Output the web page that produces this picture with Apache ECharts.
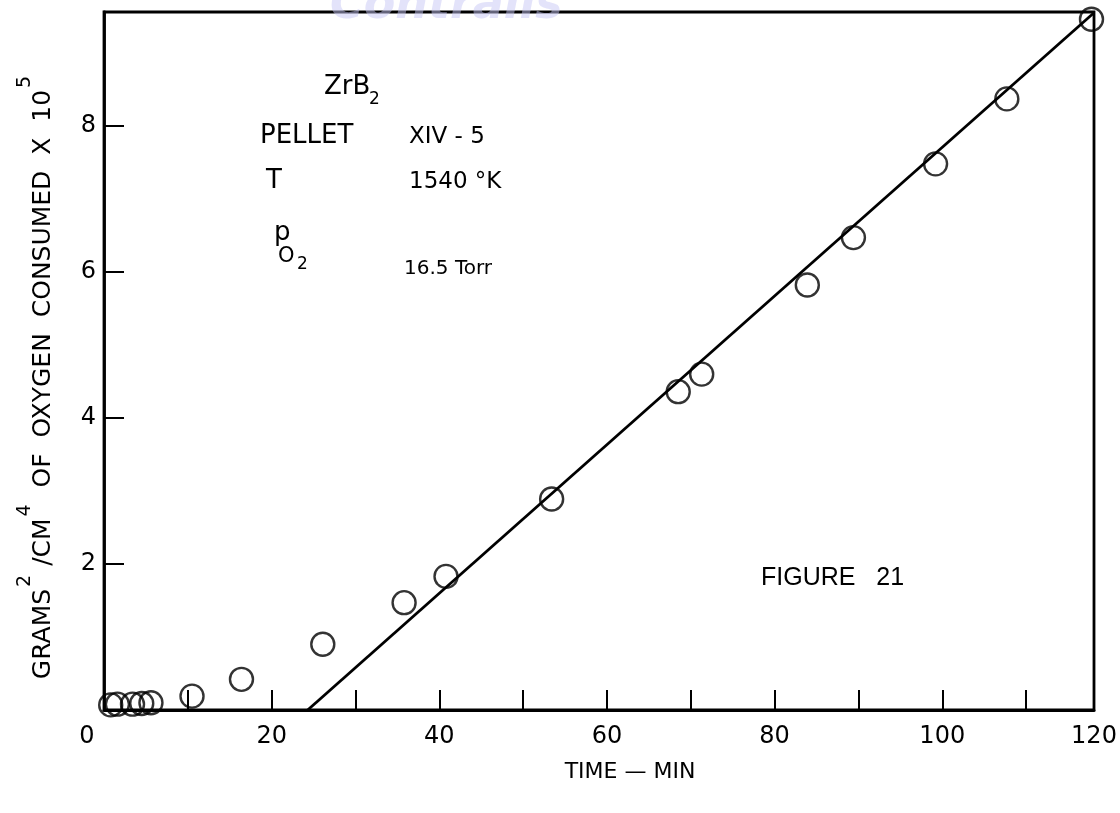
<!DOCTYPE html>
<html>
<head>
<meta charset="utf-8">
<script src="https://cdn.jsdelivr.net/npm/echarts@6/dist/echarts.min.js"></script>
<style>
html,body{margin:0;padding:0;background:#fff;}
#chart{width:1120px;height:813px;}
</style>
</head>
<body>
<div id="chart"></div>
<script>
// Data
const timeMin = [0.8, 1.6, 3.4, 4.5, 5.6, 10.5, 16.4, 26.1, 35.8, 40.8, 53.4, 68.5, 71.3, 83.9, 89.4, 99.2, 107.7, 117.8];
const oxygenSq = [0.07, 0.08, 0.08, 0.09, 0.10, 0.19, 0.42, 0.90, 1.47, 1.83, 2.89, 4.36, 4.60, 5.82, 6.47, 7.48, 8.37, 9.46];
const fitTime = [24.3, 118.1];
const fitValue = [0, 9.55];
const xTickLabels = ['0', '20', '40', '60', '80', '100', '120'];
const yTickLabels = ['2', '4', '6', '8'];

const points = timeMin.map((t, i) => [t, oxygenSq[i]]);
const fitLine = fitTime.map((t, i) => [t, fitValue[i]]);

const X_MAX = 118.1;
const Y_MAX = 9.56;
const FONT = 'DejaVu Sans';

const chart = echarts.init(document.getElementById('chart'), null, {renderer: 'canvas'});
chart.setOption({
  animation: false,
  backgroundColor: '#ffffff',
  grid: {
    left: 104, right: 26, top: 12, bottom: 103,
    show: true, borderColor: '#000', borderWidth: 2.8, backgroundColor: 'transparent'
  },
  xAxis: {
    type: 'value', min: 0, max: X_MAX, interval: 10,
    name: 'TIME \u2014 MIN', nameLocation: 'middle', nameGap: 51,
    nameTextStyle: {fontFamily: FONT, fontSize: 22, color: '#000', padding: [0, 0, 0, 62]},
    axisLine: {show: true, lineStyle: {color: '#000', width: 2.8}},
    axisTick: {show: true, inside: true, length: 20, lineStyle: {color: '#000', width: 2}},
    splitLine: {show: false},
    axisLabel: {
      margin: 15, fontFamily: FONT, fontSize: 24, color: '#000',
      rich: {z: {fontFamily: FONT, fontSize: 24, color: '#000', padding: [0, 34, 0, 0]}},
      formatter: function (v) {
        if (v > 115) return xTickLabels[6];
        const r = Math.round(v);
        if (r === 0) return '{z|' + xTickLabels[0] + '}';
        if (r % 20 === 0) return xTickLabels[r / 20];
        return '';
      }
    }
  },
  yAxis: {
    type: 'value', min: 0, max: Y_MAX, interval: 2,
    name: '{g|GRAMS}{s|2}{g| /CM}{s|4}{g|  OF  OXYGEN  CONSUMED  X  10}{s|5}',
    nameLocation: 'middle', nameGap: 48, nameRotate: 90,
    nameTextStyle: {
      color: '#000', padding: [0, 32, 0, 0],
      rich: {
        g: {fontFamily: FONT, fontSize: 25, lineHeight: 26, verticalAlign: 'bottom', color: '#000'},
        s: {fontFamily: FONT, fontSize: 19, lineHeight: 40, verticalAlign: 'top', padding: [0, 1, 0, 2], color: '#000'}
      }
    },
    axisLine: {show: true, lineStyle: {color: '#000', width: 2.8}},
    axisTick: {show: true, inside: true, length: 20, lineStyle: {color: '#000', width: 2}},
    splitLine: {show: false},
    axisLabel: {
      margin: 8, fontFamily: FONT, fontSize: 24, color: '#000',
      formatter: function (v) {
        const r = Math.round(v);
        if (Math.abs(v - r) > 0.01 || r === 0) return '';
        return yTickLabels[r / 2 - 1] || '';
      }
    }
  },
  series: [
    {
      type: 'line', data: fitLine, showSymbol: false, clip: false,
      lineStyle: {color: '#000', width: 2.8}, z: 2
    },
    {
      type: 'scatter', data: points, symbol: 'circle', symbolSize: 23, clip: false,
      itemStyle: {color: 'rgba(255,255,255,0)', borderColor: '#000', borderWidth: 2.4}, z: 3
    }
  ],
  graphic: [
    {type: 'text', left: 330, top: -17, z: 0, silent: true,
      style: {text: 'Contrails', fontFamily: FONT, fontSize: 46, fontStyle: 'italic', fontWeight: 'bold', fill: 'rgba(200,200,245,0.5)'}},
    {type: 'text', left: 324, top: 74, style: {text: 'ZrB', fontFamily: FONT, fontSize: 26, fill: '#000'}},
    {type: 'text', left: 369, top: 91, style: {text: '2', fontFamily: FONT, fontSize: 17, fill: '#000'}},
    {type: 'text', left: 260, top: 123, style: {text: 'PELLET', fontFamily: FONT, fontSize: 26, fill: '#000'}},
    {type: 'text', left: 409, top: 126, style: {text: 'XIV - 5', fontFamily: FONT, fontSize: 23, fill: '#000'}},
    {type: 'text', left: 266, top: 168, style: {text: 'T', fontFamily: FONT, fontSize: 26, fill: '#000'}},
    {type: 'text', left: 409, top: 171, style: {text: '1540 \u00B0K', fontFamily: FONT, fontSize: 23, fill: '#000'}},
    {type: 'text', left: 274, top: 220, style: {text: 'p', fontFamily: FONT, fontSize: 26, fill: '#000'}},
    {type: 'text', left: 278, top: 246, style: {text: 'O', fontFamily: FONT, fontSize: 21, fill: '#000'}},
    {type: 'text', left: 297, top: 256, style: {text: '2', fontFamily: FONT, fontSize: 17, fill: '#000'}},
    {type: 'text', left: 404, top: 259, style: {text: '16.5 Torr', fontFamily: FONT, fontSize: 20, fill: '#000'}},
    {type: 'text', left: 761, top: 566, style: {text: 'FIGURE   21', fontFamily: 'Liberation Sans', fontSize: 25, fill: '#000'}}
  ]
});
</script>
</body>
</html>
